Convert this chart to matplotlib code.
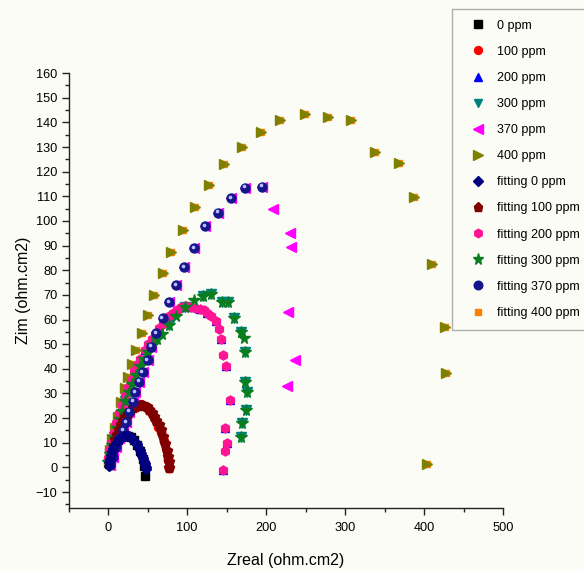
import matplotlib
matplotlib.use("Agg")
import matplotlib.pyplot as plt
from matplotlib.ticker import MultipleLocator
from matplotlib import transforms

plt.rcParams['font.family'] = ['Liberation Sans', 'DejaVu Sans']

# ---------------- data ----------------
ppm0_x = [1.5, 3, 5.5, 9, 13, 17, 21, 25, 29, 33, 37, 41, 44, 46, 46.5]
ppm0_y = [1.5, 4.5, 7, 9.5, 11.3, 12.3, 12.7, 12.7, 12.2, 11, 9, 6.5, 3.5, 0.5, -3.5]

ppm100_x = [3.5, 6, 9.5, 13.5, 18, 23, 28, 33, 38, 43, 48, 53, 58, 63, 67, 71, 74, 76, 77.5]
ppm100_y = [4, 8, 12, 15.5, 18.5, 21, 23, 24.3, 25, 25.2, 24.5, 23, 20.6, 16.5, 14.5, 10.5, 6.5, 3, -0.3]

ppm200_x = [1.5, 7, 13.5, 21, 29, 37, 46.5, 55.5, 65, 73, 82, 92, 104.5, 116.5, 125, 136, 143, 149, 154.5, 148, 151, 146]
ppm200_y = [7, 14, 22, 29, 35.5, 41.5, 47.5, 52, 56.5, 60, 62.8, 65, 65.2, 64.3, 62.5, 59.3, 52, 41.3, 27.5, 15.8, 9.8, -1.2]

ppm300_x = [2.5, 8, 14.5, 22, 30.5, 40, 50, 61.5, 77.5, 97, 119.5, 130, 144.5, 152, 159.5, 168.5, 173, 173, 175.5, 174, 170, 168]
ppm300_y = [5.5, 12.5, 19.5, 27, 34, 41, 47, 52, 57.8, 65, 69.5, 70.5, 67.2, 67.2, 60.6, 54.8, 47, 34.8, 30.7, 23.3, 18.1, 12.5]

ppm370_x = [2.9, 6, 10.1, 14.3, 18.6, 22.7, 27, 31.2, 34.5, 39.5, 43.8, 50, 54.3, 60.6, 69, 77.4, 86, 96.4,
            108.5, 122.9, 139, 155.3, 173.4, 195.3, 208, 230, 231, 227.7, 236.5, 226]
ppm370_y = [1, 4.3, 8.4, 11.8, 15.2, 18.5, 22.6, 26.7, 30.7, 34.8, 38.8, 43.6, 49, 54.4, 60.5, 67.2, 74, 81.4,
            89.1, 97.8, 103.4, 109.2, 113.5, 113.9, 105, 95.2, 89.3, 63.2, 43.6, 33]

ppm400_x = [1, 3, 5.5, 8.5, 12, 16.5, 21.5, 25.6, 30.3, 35.4, 42.5, 50, 58.5, 69, 79.5, 94.3, 109.5, 127.5,
            147, 169, 193, 218, 249, 278.6, 306.8, 337.5, 367.8, 386.8, 410, 426, 426.8, 404]
ppm400_y = [2, 7, 11.5, 16, 20.5, 26.5, 32.1, 36.6, 41.8, 47.7, 54.6, 62, 70, 78.7, 87.5, 96.4, 105.7, 114.7,
            123, 130, 136, 141, 143.6, 142, 141, 128, 123.4, 109.6, 82.5, 56.8, 38.4, 1.4]

fit0_x = [1, 1.5, 2.5, 3.5, 5, 6.5, 8, 10, 12, 14, 16, 18, 20, 22, 24, 26, 28, 30, 32, 34, 36, 38, 40,
          41.5, 43, 44.5, 45.5, 46.5, 47, 47.5, 48]
fit0_y = [0.5, 2, 3.5, 5, 6.5, 7.8, 8.8, 9.9, 10.8, 11.5, 12, 12.4, 12.7, 12.8, 12.8, 12.6, 12.3, 11.8, 11.2,
          10.4, 9.5, 8.4, 7.1, 6, 4.8, 3.6, 2.6, 1.6, 0.8, 0, -0.8]

fit100_x = [3, 4, 5.5, 7, 9, 11, 13.5, 16, 19, 22, 25, 28, 31, 34, 37, 40, 43, 46, 49, 52, 55, 58, 61,
            64, 67, 69.5, 72, 74, 75.5, 76.5, 77.5]
fit100_y = [1, 3.5, 6, 8.5, 11, 13, 15.2, 17, 18.8, 20.4, 21.8, 23, 23.9, 24.6, 25, 25.2, 25.2, 24.9, 24.3,
            23.4, 22.2, 20.6, 18.9, 17, 15, 12.5, 9.5, 6.5, 4.2, 2, -0.3]

fit200_x = [-0.5, 1.5, 4, 7, 10, 13.5, 17.5, 21, 25, 29, 33, 37, 41, 46.5, 51, 55.5, 60, 65, 69, 73, 77.5,
            82, 87, 92, 98, 104.5, 110.5, 116.5, 121.5, 125, 130, 136, 140, 143, 146, 149, 154.5, 148, 151,
            148, 146]
fit200_y = [4, 7, 10, 14, 18, 22, 25.5, 29, 32.5, 35.5, 39, 41.5, 43.8, 47.5, 50, 52, 54.2, 56.5, 58.2, 60,
            61.5, 62.8, 64, 65, 65.3, 65.2, 64.8, 64.3, 63.8, 62.5, 61.5, 59.3, 56, 52, 45.6, 41.3, 27.5,
            15.8, 9.8, 6.6, -1.2]

fit300_x = [0.5, 2.5, 5, 8, 11, 14.5, 18, 22, 26, 30.5, 35, 40, 45, 50, 55.5, 61.5, 68, 77.5, 86, 97, 109,
            119.5, 130, 144.5, 152, 159.5, 168.5, 172, 173, 173, 175.5, 174, 170, 168]
fit300_y = [2, 5.5, 9, 12.5, 16, 19.5, 23, 27, 30.5, 34, 37.5, 41, 44, 47, 49.5, 52, 54.2, 57.8, 61.5, 65,
            67.9, 69.5, 70.5, 67.2, 67.2, 60.6, 54.8, 52.4, 47, 34.8, 30.7, 23.3, 18.1, 12.5]

fit370_x = [2.9, 6, 10.1, 14.3, 18.6, 22.7, 27, 31.2, 34.5, 39.5, 43.8, 50, 54.3, 60.6, 69, 77.4, 86, 96.4,
            108.5, 122.9, 139, 155.3, 173.4, 195.3]
fit370_y = [1, 4.3, 8.4, 11.8, 15.2, 18.5, 22.6, 26.7, 30.7, 34.8, 38.8, 43.6, 49, 54.4, 60.5, 67.2, 74, 81.4,
            89.1, 97.8, 103.4, 109.2, 113.5, 113.9]

fit400_x = ppm400_x
fit400_y = ppm400_y

x_ticks = [0, 100, 200, 300, 400, 500]
y_ticks = [-10, 0, 10, 20, 30, 40, 50, 60, 70, 80, 90, 100, 110, 120, 130, 140, 150, 160]

# ---------------- figure ----------------
bg = '#fbfcf6'
fig = plt.figure(figsize=(5.84, 5.71), dpi=100, facecolor=bg)
ax = fig.add_axes([0.1173, 0.1103, 0.7447, 0.7617], facecolor=bg)

h = {}
h['fit400'], = ax.plot(fit400_x, fit400_y, 's', color='#ff8000', ms=4, ls='none', zorder=1,
                       label='fitting 400 ppm')
h['0'], = ax.plot(ppm0_x, ppm0_y, 's', color='black', ms=6, ls='none', zorder=2, label='0 ppm')
h['100'], = ax.plot(ppm100_x, ppm100_y, 'o', color='#ff0000', ms=6, ls='none', zorder=2, label='100 ppm')
h['200'], = ax.plot(ppm200_x, ppm200_y, '^', color='#0000ff', ms=6, ls='none', zorder=2, label='200 ppm')
h['300'], = ax.plot(ppm300_x, ppm300_y, 'v', color='#008080', ms=6.5, ls='none', zorder=2, label='300 ppm')
h['370'], = ax.plot(ppm370_x, ppm370_y, '<', color='#ff00ff', ms=7.5, ls='none', zorder=2, label='370 ppm')
h['400'], = ax.plot(ppm400_x, ppm400_y, '>', color='#808000', ms=7.5, ls='none', zorder=2.5, label='400 ppm')

h['fit200'], = ax.plot(fit200_x, fit200_y, 'h', color='#ff1493', ms=6.5, ls='none', zorder=3,
                       label='fitting 200 ppm')
h['fit300'], = ax.plot(fit300_x, fit300_y, '*', color='#0a7d1e', ms=8.5, ls='none', zorder=3,
                       label='fitting 300 ppm')
h['fit100'], = ax.plot(fit100_x, fit100_y, 'p', color='#800000', ms=7, ls='none', zorder=4,
                       label='fitting 100 ppm')
h['fit370'], = ax.plot(fit370_x, fit370_y, 'o', color='#16168c', ms=6.5, ls='none', zorder=5,
                       label='fitting 370 ppm')
hl = transforms.offset_copy(ax.transData, fig=fig, x=-1.2, y=1.2, units='dots')
ax.plot(fit370_x, fit370_y, 'o', color='#b8c0ff', ms=1.6, ls='none', zorder=5.5, transform=hl)
h['fit0'], = ax.plot(fit0_x, fit0_y, 'D', color='#000080', ms=5, ls='none', zorder=6, label='fitting 0 ppm')

ax.set_xlim(-50, 500)
ax.set_ylim(-16.5, 160)
ax.set_xticks(x_ticks)
ax.set_yticks(y_ticks)
ax.xaxis.set_minor_locator(MultipleLocator(50))
ax.yaxis.set_minor_locator(MultipleLocator(5))
for s in ['top', 'right']:
    ax.spines[s].set_visible(False)
for s in ['left', 'bottom']:
    ax.spines[s].set_color('#222222')
    ax.spines[s].set_linewidth(1.0)
ax.tick_params(which='major', direction='out', length=5, width=1, labelsize=9.2, color='#222222')
ax.tick_params(axis='x', which='major', pad=5)
ax.tick_params(axis='y', which='major', pad=3)
ax.tick_params(which='minor', direction='out', length=3, width=1, color='#222222')
ax.set_xlabel('Zreal (ohm.cm2)', fontsize=11.5, labelpad=14)
ax.set_ylabel('Zim (ohm.cm2)', fontsize=11.5, labelpad=3)

order = ['0', '100', '200', '300', '370', '400', 'fit0', 'fit100', 'fit200', 'fit300', 'fit370', 'fit400']
leg = fig.legend([h[k] for k in order], [h[k].get_label() for k in order],
                 loc='upper left', bbox_to_anchor=(452 / 584, 1 - 9 / 571),
                 bbox_transform=fig.transFigure, fontsize=9, frameon=True, fancybox=False,
                 borderpad=0.85, handlelength=2.46, handletextpad=0.29, labelspacing=1.13,
                 borderaxespad=0, markerscale=0.95)
leg.get_frame().set_edgecolor('#9a9a9a')
leg.get_frame().set_linewidth(1.0)
leg.get_frame().set_facecolor(bg)

fig.savefig('out.png', dpi=100, facecolor=bg)
